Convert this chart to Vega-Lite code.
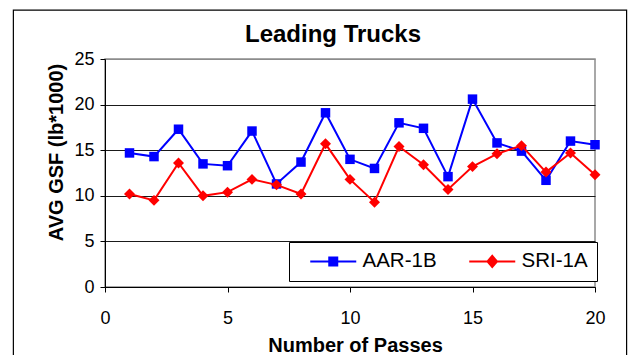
{
  "$schema": "https://vega.github.io/schema/vega-lite/v6.json",
  "width": 490,
  "height": 228,
  "autosize": "none",
  "padding": {"left": 105, "top": 59, "right": 38, "bottom": 68},
  "background": "white",
  "config": {
    "font": "Liberation Sans",
    "view": {"stroke": "#8c8c8c", "strokeWidth": 1.5}
  },
  "title": {
    "text": "Leading Trucks",
    "font": "Liberation Sans",
    "fontSize": 24,
    "fontWeight": "bold",
    "color": "black",
    "anchor": "middle",
    "frame": "group",
    "baseline": "alphabetic",
    "dx": -17,
    "dy": 74,
    "offset": 17
  },
  "data": {
    "values": [
      {"pass": 1, "series": "AAR-1B", "gsf": 14.7},
      {"pass": 2, "series": "AAR-1B", "gsf": 14.3},
      {"pass": 3, "series": "AAR-1B", "gsf": 17.3},
      {"pass": 4, "series": "AAR-1B", "gsf": 13.5},
      {"pass": 5, "series": "AAR-1B", "gsf": 13.3},
      {"pass": 6, "series": "AAR-1B", "gsf": 17.1},
      {"pass": 7, "series": "AAR-1B", "gsf": 11.3},
      {"pass": 8, "series": "AAR-1B", "gsf": 13.7},
      {"pass": 9, "series": "AAR-1B", "gsf": 19.1},
      {"pass": 10, "series": "AAR-1B", "gsf": 14.0},
      {"pass": 11, "series": "AAR-1B", "gsf": 13.0},
      {"pass": 12, "series": "AAR-1B", "gsf": 18.0},
      {"pass": 13, "series": "AAR-1B", "gsf": 17.4},
      {"pass": 14, "series": "AAR-1B", "gsf": 12.1},
      {"pass": 15, "series": "AAR-1B", "gsf": 20.6},
      {"pass": 16, "series": "AAR-1B", "gsf": 15.8},
      {"pass": 17, "series": "AAR-1B", "gsf": 14.9},
      {"pass": 18, "series": "AAR-1B", "gsf": 11.7},
      {"pass": 19, "series": "AAR-1B", "gsf": 16.0},
      {"pass": 20, "series": "AAR-1B", "gsf": 15.6},
      {"pass": 1, "series": "SRI-1A", "gsf": 10.2},
      {"pass": 2, "series": "SRI-1A", "gsf": 9.5},
      {"pass": 3, "series": "SRI-1A", "gsf": 13.6},
      {"pass": 4, "series": "SRI-1A", "gsf": 10.0},
      {"pass": 5, "series": "SRI-1A", "gsf": 10.4},
      {"pass": 6, "series": "SRI-1A", "gsf": 11.8},
      {"pass": 7, "series": "SRI-1A", "gsf": 11.2},
      {"pass": 8, "series": "SRI-1A", "gsf": 10.2},
      {"pass": 9, "series": "SRI-1A", "gsf": 15.7},
      {"pass": 10, "series": "SRI-1A", "gsf": 11.8},
      {"pass": 11, "series": "SRI-1A", "gsf": 9.3},
      {"pass": 12, "series": "SRI-1A", "gsf": 15.4},
      {"pass": 13, "series": "SRI-1A", "gsf": 13.4},
      {"pass": 14, "series": "SRI-1A", "gsf": 10.7},
      {"pass": 15, "series": "SRI-1A", "gsf": 13.2},
      {"pass": 16, "series": "SRI-1A", "gsf": 14.6},
      {"pass": 17, "series": "SRI-1A", "gsf": 15.5},
      {"pass": 18, "series": "SRI-1A", "gsf": 12.6},
      {"pass": 19, "series": "SRI-1A", "gsf": 14.7},
      {"pass": 20, "series": "SRI-1A", "gsf": 12.3}
    ]
  },
  "layer": [
    {
      "transform": [{"filter": "datum.series === 'AAR-1B'"}],
      "mark": {"type": "line", "strokeWidth": 2, "color": "#0000ff"},
      "encoding": {
        "x": {
          "field": "pass",
          "type": "quantitative",
          "scale": {"domain": [0, 20], "nice": false},
          "axis": {
            "title": "Number of Passes",
            "values": [0, 5, 10, 15, 20],
            "grid": false,
            "domainColor": "black",
            "tickColor": "black",
            "tickSize": 5,
            "labelFontSize": 18,
            "labelColor": "black",
            "labelBaseline": "alphabetic",
            "labelPadding": 31,
            "labelFlush": false,
            "titleFontSize": 20,
            "titleFontWeight": "bold",
            "titleColor": "black",
            "titleX": 250,
            "titleY": 64.5,
            "titleAlign": "center",
            "titleBaseline": "alphabetic"
          }
        },
        "y": {
          "field": "gsf",
          "type": "quantitative",
          "scale": {"domain": [0, 25], "nice": false},
          "axis": {
            "title": "AVG GSF (lb*1000)",
            "values": [0, 5, 10, 15, 20, 25],
            "grid": true,
            "gridColor": {"condition": {"test": "datum.value >= 25", "value": "#8c8c8c"}, "value": "#1a1a1a"},
            "gridWidth": 1,
            "domainColor": "black",
            "tickColor": "black",
            "tickSize": 5,
            "labelFontSize": 18,
            "labelColor": "black",
            "labelPadding": 6,
            "labelFlush": false,
            "titleFontSize": 20,
            "titleFontWeight": "bold",
            "titleColor": "black",
            "titleX": -49,
            "titleY": 93,
            "titleAlign": "center",
            "titleBaseline": "middle"
          }
        }
      }
    },
    {
      "transform": [{"filter": "datum.series === 'AAR-1B'"}],
      "mark": {"type": "point", "shape": "square", "filled": true, "opacity": 1, "size": 90, "color": "#0000ff"},
      "encoding": {
        "x": {"field": "pass", "type": "quantitative"},
        "y": {"field": "gsf", "type": "quantitative"}
      }
    },
    {
      "transform": [{"filter": "datum.series === 'SRI-1A'"}],
      "mark": {"type": "line", "strokeWidth": 2, "color": "#ff0000"},
      "encoding": {
        "x": {"field": "pass", "type": "quantitative"},
        "y": {"field": "gsf", "type": "quantitative"}
      }
    },
    {
      "transform": [{"filter": "datum.series === 'SRI-1A'"}],
      "mark": {"type": "point", "shape": "diamond", "filled": true, "opacity": 1, "size": 120, "color": "#ff0000"},
      "encoding": {
        "x": {"field": "pass", "type": "quantitative"},
        "y": {"field": "gsf", "type": "quantitative"}
      }
    },
    {
      "mark": {"type": "point", "filled": false, "strokeWidth": 2, "opacity": 0},
      "encoding": {
        "x": {"field": "pass", "type": "quantitative"},
        "y": {"field": "gsf", "type": "quantitative"},
        "color": {
          "field": "series",
          "type": "nominal",
          "scale": {"domain": ["AAR-1B", "SRI-1A"], "range": ["#0000ff", "#ff0000"]}
        },
        "shape": {
          "field": "series",
          "type": "nominal",
          "scale": {
            "domain": ["AAR-1B", "SRI-1A"],
            "range": [
              "M-4.6,0H4.6M-0.8,-0.8H0.8V0.8H-0.8ZM-0.8,-0.4H0.8M-0.8,0.4H0.8",
              "M-4.6,0H4.6M0,-1.1L0.95,0L0,1.1L-0.95,0ZM-0.6,-0.4H0.6M-0.6,0.4H0.6M-0.3,-0.75H0.3M-0.3,0.75H0.3"
            ]
          },
          "legend": {
            "title": null,
            "orient": "none",
            "legendX": 184,
            "legendY": 183,
            "direction": "horizontal",
            "padding": 9,
            "strokeColor": "black",
            "fillColor": "white",
            "cornerRadius": 0,
            "symbolSize": 100,
            "symbolStrokeWidth": 2,
            "symbolOpacity": 1,
            "symbolOffset": 25,
            "labelOffset": 19,
            "columnPadding": 20,
            "labelFontSize": 20.5,
            "labelColor": "black",
            "encode": {
              "symbols": {
                "update": {
                  "opacity": {"value": 1},
                  "strokeWidth": {"value": 2}
                }
              }
            }
          }
        }
      }
    },
    {
      "data": {"values": [{}]},
      "mark": {"type": "rect", "fill": "transparent", "stroke": "black", "strokeWidth": 1.2, "clip": false},
      "encoding": {
        "x": {"datum": -3.74, "type": "quantitative"},
        "x2": {"datum": 21.29},
        "y": {"datum": 30.37, "type": "quantitative"},
        "y2": {"datum": -10}
      }
    }
  ]
}
